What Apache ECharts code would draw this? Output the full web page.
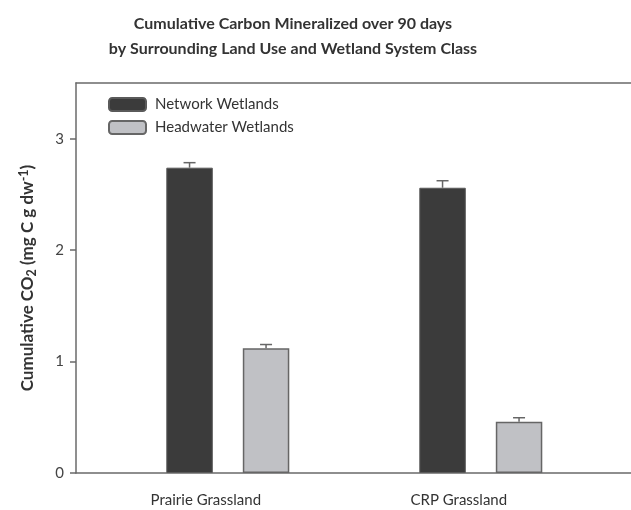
<!DOCTYPE html>
<html>
<head>
<meta charset="utf-8">
<script src="https://cdn.jsdelivr.net/npm/echarts@6/dist/echarts.min.js"></script>
<style>html,body{margin:0;padding:0;background:#fff}#c{width:631px;height:510px}</style>
</head>
<body>
<div id="c"></div>
<script>
const categories = ['Prairie Grassland', 'CRP Grassland'];
const networkValues = [2.74, 2.56];
const networkErrors = [0.045, 0.063];
const headwaterValues = [1.12, 0.46];
const headwaterErrors = [0.033, 0.036];
const yTicks = [0, 1, 2, 3];

const FONT = 'Lato';
const BAR_W = 46.5;
const GAP_PX = 30;
const shift = (BAR_W + GAP_PX) / 2;

function errData(vals, errs) {
  return vals.map((v, i) => [i, v, errs[i]]);
}
function errRender(dir) {
  return function (params, api) {
    const ci = api.value(0), v = api.value(1), e = api.value(2);
    const b = api.coord([ci, v]);
    const t = api.coord([ci, v + e]);
    const x = b[0] + dir * shift;
    const cap = 6;
    const style = { stroke: '#666', lineWidth: 1.5 };
    return {
      type: 'group',
      children: [
        { type: 'line', shape: { x1: x, y1: b[1], x2: x, y2: t[1] }, style },
        { type: 'line', shape: { x1: x - cap, y1: t[1], x2: x + cap, y2: t[1] }, style }
      ]
    };
  };
}

const chart = echarts.init(document.getElementById('c'), null, { renderer: 'canvas' });
chart.setOption({
  animation: false,
  backgroundColor: '#fff',
  textStyle: { fontFamily: FONT },
  title: {
    text: 'Cumulative Carbon Mineralized over 90 days\nby Surrounding Land Use and Wetland System Class',
    left: 293, top: 11, padding: 0, textAlign: 'center',
    textStyle: { fontFamily: FONT, fontSize: 16, fontWeight: 'bold', color: '#333', lineHeight: 25 }
  },
  legend: {
    orient: 'vertical', left: 108, top: 97, padding: 0,
    itemWidth: 37, itemHeight: 13, itemGap: 8,
    textStyle: { fontFamily: FONT, fontSize: 15, color: '#333', padding: [0, 0, 0, 4] },
    data: ['Network Wetlands', 'Headwater Wetlands']
  },
  grid: [
    { left: 101.3, width: 506, top: 83, bottom: 37 },
    { left: 76, right: -40, top: 83, bottom: 37 }
  ],
  xAxis: [
    {
      type: 'category', gridIndex: 0, data: categories,
      axisLine: { show: false }, axisTick: { show: false },
      axisLabel: { fontFamily: FONT, fontSize: 15, color: '#333', margin: 20, padding: [0, 44, 0, 0] }
    },
    {
      type: 'value', gridIndex: 1, position: 'bottom', min: 0, max: 1,
      axisLine: { show: true, lineStyle: { color: '#6a6a6a', width: 1.5 } },
      axisTick: { show: false }, axisLabel: { show: false }, splitLine: { show: false }
    },
    {
      type: 'value', gridIndex: 1, position: 'top', min: 0, max: 1,
      axisLine: { show: true, lineStyle: { color: '#6a6a6a', width: 1.5 } },
      axisTick: { show: false }, axisLabel: { show: false }, splitLine: { show: false }
    }
  ],
  yAxis: [
    {
      type: 'value', gridIndex: 0, min: 0, max: 3.5, show: false
    },
    {
      type: 'value', gridIndex: 1, min: 0, max: 3.5, interval: 1,
      axisLine: { show: true, lineStyle: { color: '#6a6a6a', width: 1.5 } },
      axisTick: { show: true, length: 6, customValues: yTicks, lineStyle: { color: '#6a6a6a', width: 1.5 } },
      axisLabel: { customValues: yTicks, fontFamily: FONT, fontSize: 15, color: '#444', margin: 12 },
      splitLine: { show: false },
      name: '{a|Cumulative CO}{sub|2}{a| (mg C g dw}{sup|-1}{a|)}',
      nameLocation: 'middle', nameGap: 38, nameRotate: 90,
      nameTextStyle: {
        rich: {
          a: { fontFamily: FONT, fontSize: 17, fontWeight: 'bold', color: '#333' },
          sub: { fontFamily: FONT, fontSize: 12.5, fontWeight: 'bold', color: '#333', verticalAlign: 'bottom', padding: [8, 0, 0, 0] },
          sup: { fontFamily: FONT, fontSize: 12.5, fontWeight: 'bold', color: '#333', verticalAlign: 'top', padding: [0, 0, 8, 0] }
        }
      }
    }
  ],
  series: [
    {
      name: 'Network Wetlands', type: 'bar', xAxisIndex: 0, yAxisIndex: 0,
      data: networkValues, barWidth: BAR_W, barGap: (GAP_PX / BAR_W * 100) + '%',
      itemStyle: { color: '#3b3b3b', borderColor: '#5a5a5a', borderWidth: 1 }
    },
    {
      name: 'Headwater Wetlands', type: 'bar', xAxisIndex: 0, yAxisIndex: 0,
      data: headwaterValues, barWidth: BAR_W,
      itemStyle: { color: '#c0c1c5', borderColor: '#666', borderWidth: 1.5 }
    },
    {
      type: 'custom', xAxisIndex: 0, yAxisIndex: 0, z: 5,
      data: errData(networkValues, networkErrors), renderItem: errRender(-1)
    },
    {
      type: 'custom', xAxisIndex: 0, yAxisIndex: 0, z: 5,
      data: errData(headwaterValues, headwaterErrors), renderItem: errRender(1)
    }
  ]
});
</script>
</body>
</html>
